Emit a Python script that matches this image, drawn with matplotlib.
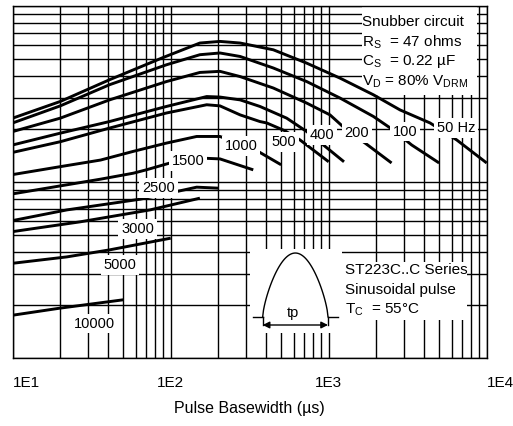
import matplotlib
matplotlib.use('Agg')
import matplotlib.pyplot as plt
import numpy as np
from matplotlib.patches import Rectangle
from matplotlib.ticker import LogLocator, NullFormatter, FixedLocator, FixedFormatter

plt.rcParams['font.family'] = ['Liberation Sans', 'DejaVu Sans']
plt.rcParams['mathtext.fontset'] = 'custom'
plt.rcParams['mathtext.rm'] = 'Liberation Sans'

# ---- data (pulse basewidth in us, peak current arbitrary log units) ----
x_50 = [10, 20, 41, 89, 153, 205, 275, 446, 726, 1180, 1920, 2830, 4380, 6460, 10000]
y_50 = [230, 286, 380, 507, 614, 627, 614, 562, 472, 388, 312, 256, 216, 173, 128]

x_100 = [10, 20, 41, 94, 153, 205, 275, 446, 726, 1180, 1920, 2560, 3350, 5000]
y_100 = [216, 270, 356, 462, 527, 539, 515, 443, 371, 299, 235, 197, 162, 128]

x_200 = [10, 20, 41, 94, 153, 205, 275, 446, 726, 1019, 1300, 1700, 2500]
y_200 = [193, 230, 292, 371, 418, 424, 396, 341, 280, 240, 197, 166, 128]

x_400 = [10, 20, 41, 94, 169, 205, 275, 367, 542, 726, 925, 1250]
y_400 = [162, 189, 220, 268, 305, 303, 292, 268, 230, 193, 162, 130]

x_500 = [10, 20, 41, 94, 169, 205, 275, 367, 405, 528, 658, 1000]
y_500 = [147, 169, 202, 246, 274, 270, 240, 220, 216, 195, 173, 130]

x_1000 = [10, 20, 36, 58, 94, 146, 205, 280, 357, 500]
y_1000 = [110, 122, 133, 149, 166, 181, 181, 163, 149, 125]

x_1500 = [10, 36, 58, 70, 99, 135, 169, 205, 333]
y_1500 = [85.5, 103.6, 112, 117, 128, 137, 136, 135, 117]

x_2500 = [10, 22, 64, 109, 146, 200]
y_2500 = [60.3, 69.3, 79.7, 88.1, 93.3, 92.1]

x_3000 = [10, 26.7, 74, 153]
y_3000 = [52.2, 59.3, 69.3, 80.8]

x_5000 = [10, 22, 41, 100]
y_5000 = [34.5, 37.5, 41.1, 47.9]

x_10000 = [10, 20, 50]
y_10000 = [17.5, 19.2, 21.4]

curves_x = [x_50, x_100, x_200, x_400, x_500, x_1000, x_1500, x_2500, x_3000, x_5000, x_10000]
curves_y = [y_50, y_100, y_200, y_400, y_500, y_1000, y_1500, y_2500, y_3000, y_5000, y_10000]

freq_labels = ['50 Hz', '100', '200', '400', '500', '1000', '1500', '2500', '3000', '5000', '10000']
label_x = [6400, 3040, 1510, 908, 521, 279, 129, 83.5, 61.7, 47.7, 32.7]
label_y = [203, 193, 190, 185, 169, 159, 132, 92.7, 53.9, 33.8, 15.7]

xtick_vals = [10, 100, 1000, 10000]
xtick_labels = ['1E1', '1E2', '1E3', '1E4']
xtick_ha = ['left', 'center', 'center', 'left']

snubber_lines = ['Snubber circuit',
                 r'R$_\mathregular{S}$  = 47 ohms',
                 r'C$_\mathregular{S}$  = 0.22 µF',
                 r'V$_\mathregular{D}$ = 80% V$_\mathregular{DRM}$']
series_lines = ['ST223C..C Series',
                'Sinusoidal pulse',
                r'T$_\mathregular{C}$  = 55°C']
x_label = 'Pulse Basewidth (µs)'

# ---- figure ----
fig = plt.figure(figsize=(5.13, 4.26), dpi=100)
ax = fig.add_axes([0.0248, 0.1596, 0.9239, 0.8270])
ax.set_xscale('log')
ax.set_yscale('log')
ax.set_xlim(10, 10000)
ax.set_ylim(10, 1000)

ax.xaxis.set_major_locator(FixedLocator(xtick_vals))
ax.xaxis.set_major_formatter(FixedFormatter(xtick_labels))
ax.xaxis.set_minor_locator(LogLocator(base=10, subs=range(2, 10)))
ax.xaxis.set_minor_formatter(NullFormatter())
ax.yaxis.set_major_locator(LogLocator(base=10))
ax.yaxis.set_minor_locator(LogLocator(base=10, subs=range(2, 10)))
ax.yaxis.set_major_formatter(NullFormatter())
ax.yaxis.set_minor_formatter(NullFormatter())
ax.tick_params(which='both', length=0)
ax.tick_params(axis='x', labelsize=11, pad=13)
for lab, ha in zip(ax.get_xticklabels(), xtick_ha):
    lab.set_ha(ha)

ax.set_axisbelow(True)
ax.grid(which='both', color='black', lw=1.0)
for s in ax.spines.values():
    s.set_linewidth(1.0)
    s.set_color('black')

# white panels behind text boxes
for (x0, y0, w, h) in [(0.737, 0.7465, 0.2425, 0.2535),
                       (0.500, 0.071, 0.1947, 0.238),
                       (0.6947, 0.108, 0.2633, 0.1645)]:
    ax.add_patch(Rectangle((x0, y0), w, h, transform=ax.transAxes,
                           facecolor='white', edgecolor='none', zorder=1.5))

for cx, cy in zip(curves_x, curves_y):
    ax.plot(cx, cy, color='black', lw=2.1, zorder=2, solid_capstyle='butt',
            solid_joinstyle='round')

for t, lx, ly in zip(freq_labels, label_x, label_y):
    ax.text(lx, ly, t, fontsize=10.5, ha='center', va='center', zorder=3,
            bbox=dict(boxstyle='square,pad=0.2', facecolor='white', edgecolor='none'))

for i, t in enumerate(snubber_lines):
    ax.text(0.737, 0.9546 - i * 0.0568, t, transform=ax.transAxes,
            fontsize=11, ha='left', va='center', zorder=3)
for i, t in enumerate(series_lines):
    ax.text(0.701, 0.2498 - i * 0.0568, t, transform=ax.transAxes,
            fontsize=11, ha='left', va='center', zorder=3)

# pulse icon (decoration, axes fraction)
xl, xr, yb, yt, ya = 0.5274, 0.6652, 0.1172, 0.298, 0.0937
tt = np.linspace(0, 1, 80)
hx = xl + (xr - xl) * tt
hy = yb + (yt - yb) * np.sin(np.pi * tt) ** 0.7
kw = dict(color='black', lw=1.0, transform=ax.transAxes, zorder=3, clip_on=False)
ax.plot(hx, hy, **kw)
ax.plot([0.507, xl], [yb, yb], **kw)
ax.plot([xr, 0.6863], [yb, yb], **kw)
ax.plot([xl, xl], [yb, ya], **kw)
ax.plot([xr, xr], [yb, ya], **kw)
ax.annotate('', xy=(xl, ya), xytext=(xr, ya), xycoords='axes fraction',
            arrowprops=dict(arrowstyle='<|-|>', color='black', lw=1.0,
                            shrinkA=0, shrinkB=0, mutation_scale=10), zorder=3)
ax.text(0.592, 0.128, 'tp', transform=ax.transAxes, fontsize=10.5,
        ha='center', va='center', zorder=3)

ax.set_xlabel(x_label, fontsize=11.5, labelpad=8)

fig.savefig('out.png', dpi=100, facecolor='white')
